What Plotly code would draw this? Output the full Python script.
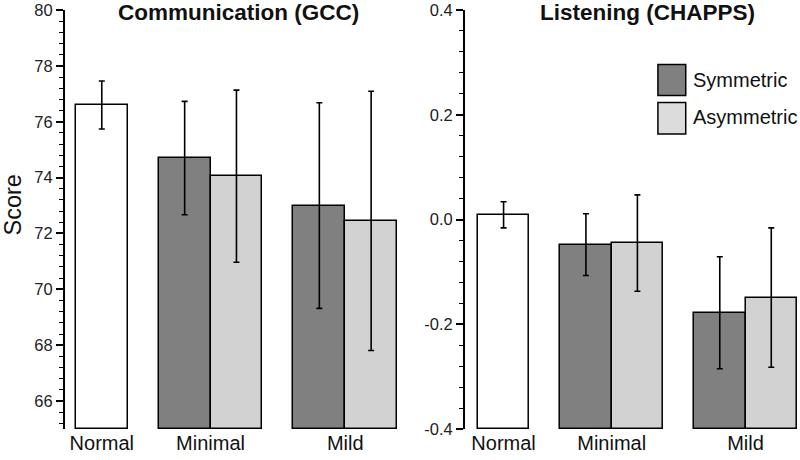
import plotly.graph_objects as go

# ---- data ----
categories = ["Normal", "Minimal", "Mild"]
groups = ["Symmetric", "Asymmetric"]

gcc_normal = 76.6
gcc_normal_err = 0.86
gcc_sym = [74.7, 73.0]
gcc_sym_err = [2.03, 3.68]
gcc_asym = [74.05, 72.45]
gcc_asym_err = [3.08, 4.64]

chapps_normal = 0.009
chapps_normal_err = 0.025
chapps_sym = [-0.048, -0.178]
chapps_sym_err = [0.059, 0.107]
chapps_asym = [-0.045, -0.149]
chapps_asym_err = [0.092, 0.133]

gcc_ticks = [66, 68, 70, 72, 74, 76, 78, 80]
chapps_ticks = [-0.4, -0.2, 0.0, 0.2, 0.4]
chapps_ticktext = ["-0.4", "-0.2", "0.0", "0.2", "0.4"]

# ---- layout constants ----
FONT = "Liberation Sans"
C_NORMAL = "#ffffff"
C_SYM = "#808080"
C_ASYM = "#d2d2d2"
x_normal = [0]
x_sym = [1.6, 4.2]
x_asym = [2.6, 5.2]
cat_ticks = [0, 2.1, 4.7]
GCC_RANGE = [65, 80]
CHAPPS_RANGE = [-0.4, 0.4]


def err(arr):
    return dict(type="data", array=arr, color="black", thickness=1.6, width=3, visible=True)


fig = go.Figure()
panels = [
    ("x", "y", GCC_RANGE[0], gcc_normal, gcc_normal_err, gcc_sym, gcc_sym_err, gcc_asym, gcc_asym_err),
    ("x2", "y2", CHAPPS_RANGE[0], chapps_normal, chapps_normal_err, chapps_sym, chapps_sym_err,
     chapps_asym, chapps_asym_err),
]
for xa, ya, b, nv, ne, sv, se, av, ae in panels:
    base = dict(xaxis=xa, yaxis=ya, width=1, showlegend=False, base=b,
                marker_line=dict(color="black", width=1.5))
    fig.add_trace(go.Bar(x=x_normal, y=[nv - b], error_y=err([ne]), marker_color=C_NORMAL,
                         name="Normal", **base))
    fig.add_trace(go.Bar(x=x_sym, y=[v - b for v in sv], error_y=err(se), marker_color=C_SYM,
                         name=groups[0], **base))
    fig.add_trace(go.Bar(x=x_asym, y=[v - b for v in av], error_y=err(ae), marker_color=C_ASYM,
                         name=groups[1], **base))

yaxis_common = dict(showline=True, linecolor="black", linewidth=2, ticks="outside", ticklen=7,
                    tickwidth=1.6, tickcolor="black", showgrid=False, zeroline=False, automargin=False,
                    ticklabeloverflow="allow",
                    tickfont=dict(family=FONT, size=16.5, color="#222"))
xaxis_common = dict(showline=False, ticks="", showgrid=False, zeroline=False, automargin=False,
                    tickvals=cat_ticks, ticktext=categories, ticklabeloverflow="allow",
                    tickfont=dict(family=FONT, size=20, color="#111"))

fig.update_layout(
    template="none",
    width=800, height=460,
    margin=dict(l=65, r=3, t=10, b=31, autoexpand=False),
    paper_bgcolor="white", plot_bgcolor="white",
    barmode="overlay", bargap=0,
    xaxis=dict(domain=[0, 0.4536], range=[-0.71, 5.7], anchor="y", **xaxis_common),
    yaxis=dict(range=GCC_RANGE, tickmode="array", tickvals=gcc_ticks, anchor="x",
               minor=dict(dtick=0.4, tick0=0, ticks="outside", ticklen=4, tickwidth=1.4, tickcolor="black"),
               **yaxis_common),
    xaxis2=dict(domain=[0.5464, 1.0], range=[-0.75, 5.7], anchor="y2", **xaxis_common),
    yaxis2=dict(range=CHAPPS_RANGE, tickmode="array", tickvals=chapps_ticks, ticktext=chapps_ticktext,
                anchor="x2",
                minor=dict(dtick=0.04, tick0=0, ticks="outside", ticklen=4, tickwidth=1.4, tickcolor="black"),
                **yaxis_common),
    font=dict(family=FONT),
)

annotations = [
    dict(text="<b>Communication (GCC)</b>", x=0.2377, y=0.993, xref="paper", yref="paper",
         xanchor="center", yanchor="middle", showarrow=False, font=dict(family=FONT, size=22.5, color="#111")),
    dict(text="<b>Listening (CHAPPS)</b>", x=0.796, y=0.993, xref="paper", yref="paper",
         xanchor="center", yanchor="middle", showarrow=False, font=dict(family=FONT, size=22.5, color="#111")),
    dict(text="Score", x=-0.0715, y=0.535, xref="paper", yref="paper", textangle=-90,
         xanchor="center", yanchor="middle", showarrow=False, font=dict(family=FONT, size=23.5, color="#111")),
    dict(text=groups[0], x=0.855, y=0.834, xref="paper", yref="paper", xanchor="left", yanchor="middle",
         showarrow=False, font=dict(family=FONT, size=20, color="#111")),
    dict(text=groups[1], x=0.855, y=0.744, xref="paper", yref="paper", xanchor="left", yanchor="middle",
         showarrow=False, font=dict(family=FONT, size=20, color="#111")),
]
fig.update_layout(annotations=annotations)

shapes = [
    dict(type="rect", xref="paper", yref="paper", x0=0.810, x1=0.848, y0=0.796, y1=0.870,
         fillcolor=C_SYM, line=dict(color="black", width=1.5)),
    dict(type="rect", xref="paper", yref="paper", x0=0.810, x1=0.848, y0=0.704, y1=0.779,
         fillcolor="#dcdcdc", line=dict(color="black", width=1.5)),
]
fig.update_layout(shapes=shapes)

fig.write_html("out.html", config={"displayModeBar": False},
               post_script="document.body.style.margin='0';document.body.style.overflow='hidden';")
